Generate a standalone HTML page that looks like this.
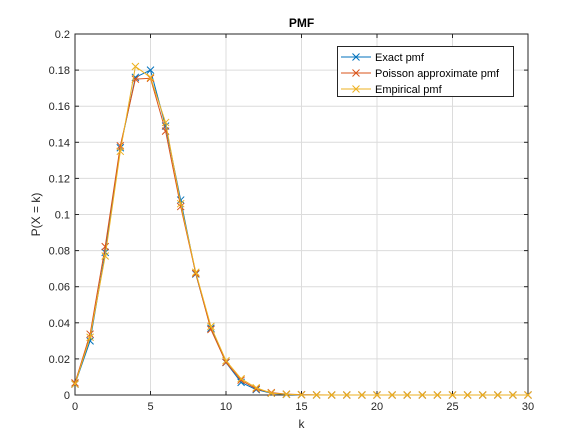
<!DOCTYPE html>
<html><head><meta charset="utf-8"><style>
body{margin:0;background:#fff;font-family:"Liberation Sans",Arial,sans-serif}
svg{display:block}
</style></head><body>
<svg id="chart" width="582" height="444"></svg>
<script>
const ks=[];for(let i=0;i<=30;i++)ks.push(i);
const exactPmf=[0.006,0.030,0.079,0.137,0.176,0.180,0.149,0.108,0.067,0.037,0.018,0.007,0.003,0.001,0.0003,0.0001,0,0,0,0,0,0,0,0,0,0,0,0,0,0,0];
const poissonPmf=[0.0067,0.0337,0.0822,0.1380,0.1750,0.1755,0.1462,0.1044,0.0673,0.0363,0.0181,0.0082,0.0034,0.0013,0.0005,0.0002,0.0001,0,0,0,0,0,0,0,0,0,0,0,0,0,0];
const empiricalPmf=[0.006,0.032,0.077,0.135,0.182,0.176,0.151,0.106,0.068,0.038,0.019,0.009,0.004,0.001,0.0004,0.0001,0,0,0,0,0,0,0,0,0,0,0,0,0,0,0];
const xTicks=[0,5,10,15,20,25,30];
const yTicks=[0,0.02,0.04,0.06,0.08,0.1,0.12,0.14,0.16,0.18,0.2];
const yTickLabels=["0","0.02","0.04","0.06","0.08","0.1","0.12","0.14","0.16","0.18","0.2"];
const L=75,R=528,T=34,B=395;
const xs=v=>L+(v/30)*(R-L), ys=v=>B-(v/0.2)*(B-T);
const svg=document.getElementById('chart');const NS='http://www.w3.org/2000/svg';
function el(t,a,p){const e=document.createElementNS(NS,t);for(const k in a)e.setAttribute(k,a[k]);(p||svg).appendChild(e);return e;}
let e=el('rect',{x:L,y:T,width:R-L,height:B-T,fill:'#fff'});


const grid=el('g',{stroke:'#dcdcdc','stroke-width':1});


xTicks.forEach(v=>el('line',{x1:xs(v),x2:xs(v),y1:T,y2:B},grid));
yTicks.forEach(v=>el('line',{x1:L,x2:R,y1:ys(v),y2:ys(v)},grid));
const ax=el('g',{stroke:'#262626','stroke-width':1,fill:'none'});


el('rect',{x:L,y:T,width:R-L,height:B-T},ax);
xTicks.forEach(v=>{el('line',{x1:xs(v),x2:xs(v),y1:B,y2:B-4},ax);el('line',{x1:xs(v),x2:xs(v),y1:T,y2:T+4},ax);});
yTicks.forEach(v=>{el('line',{x1:L,x2:L+4,y1:ys(v),y2:ys(v)},ax);el('line',{x1:R,x2:R-4,y1:ys(v),y2:ys(v)},ax);});
xTicks.forEach(v=>{const t=el('text',{x:xs(v),y:B+15,'text-anchor':'middle','font-size':11,fill:'#262626'});t.textContent=v;

});
yTicks.forEach((v,i)=>{const t=el('text',{x:L-5,y:ys(v)+4,'text-anchor':'end','font-size':11,fill:'#262626'});t.textContent=yTickLabels[i];

});
let t=el('text',{x:(L+R)/2,y:B+33,'text-anchor':'middle','font-size':12,fill:'#262626'});t.textContent='k';


t=el('text',{x:40,y:(T+B)/2,'text-anchor':'middle','font-size':12,fill:'#262626',transform:`rotate(-90 40 ${(T+B)/2})`});t.textContent='P(X = k)';


t=el('text',{x:(L+R)/2,y:T-7,'text-anchor':'middle','font-size':12,'font-weight':'bold',fill:'#000'});t.textContent='PMF';


function series(data,color,name){
 const g=el('g',{stroke:color,'stroke-width':1,fill:'none'});
 
 
 el('polyline',{points:data.map((v,i)=>xs(ks[i])+','+ys(v)).join(' ')},g);
 data.forEach((v,i)=>{const x=xs(ks[i]),y=ys(v);const p=el('path',{d:`M${x-3.5},${y-3.5}L${x+3.5},${y+3.5}M${x-3.5},${y+3.5}L${x+3.5},${y-3.5}`},g);
 
 });
}
series(exactPmf,'#0072bd','exact-pmf-series');
series(poissonPmf,'#d95319','poisson-pmf-series');
series(empiricalPmf,'#edb120','empirical-pmf-series');
const lg=el('g',{});


el('rect',{x:337.5,y:46.5,width:176,height:50,fill:'#fff',stroke:'#262626'},lg);
[['Exact pmf','#0072bd'],['Poisson approximate pmf','#d95319'],['Empirical pmf','#edb120']].forEach((d,i)=>{
 const y=57+i*16;
 el('line',{x1:341,x2:371,y1:y,y2:y,stroke:d[1]},lg);
 el('path',{d:`M${356-3.5},${y-3.5}L${356+3.5},${y+3.5}M${356-3.5},${y+3.5}L${356+3.5},${y-3.5}`,stroke:d[1]},lg);
 const tt=el('text',{x:375,y:y+4,'font-size':11,fill:'#000'},lg);tt.textContent=d[0];
 
 
});
</script>
</body></html>
